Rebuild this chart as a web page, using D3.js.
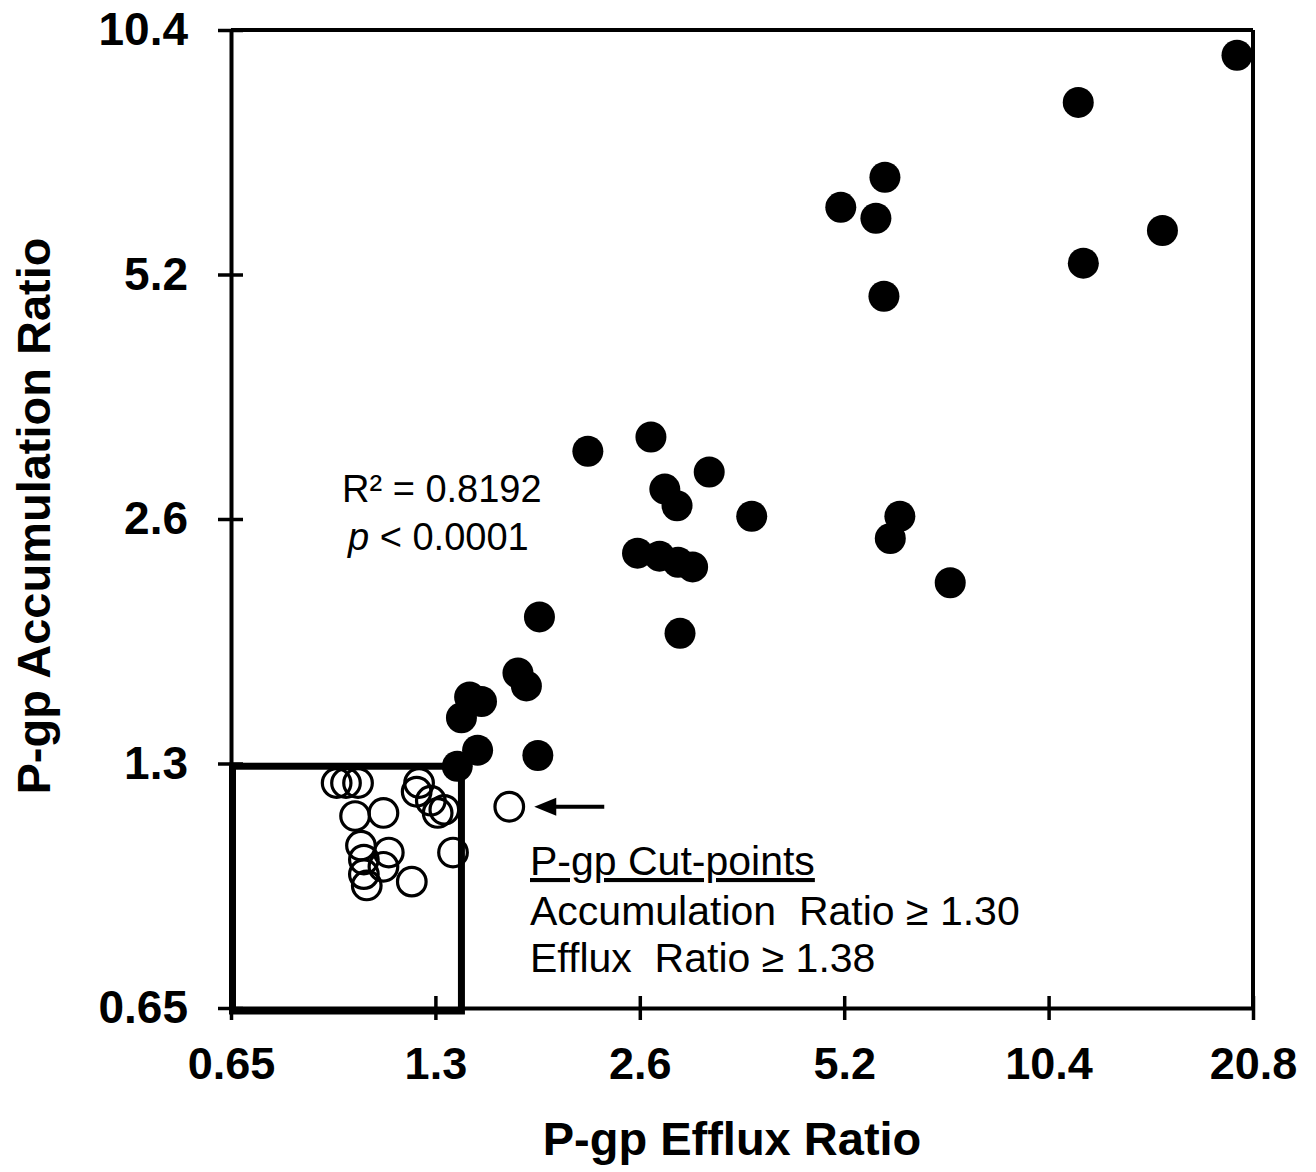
<!DOCTYPE html>
<html>
<head>
<meta charset="utf-8">
<script src="https://cdn.jsdelivr.net/npm/d3@7"></script>
<style>
  html, body { margin: 0; padding: 0; background: #fff; }
  svg { display: block; }
  text { font-family: "Liberation Sans", Arial, sans-serif; fill: #000; }
</style>
</head>
<body>
<svg id="chart" width="1316" height="1172"></svg>
<script>
// ---------- data ----------
const xTicks = [0.65, 1.3, 2.6, 5.2, 10.4, 20.8];
const yTicks = [0.65, 1.3, 2.6, 5.2, 10.4];
const xTickLabels = ["0.65", "1.3", "2.6", "5.2", "10.4", "20.8"];
const yTickLabels = ["0.65", "1.3", "2.6", "5.2", "10.4"];

// P-gp positive compounds (filled)
const filledEfflux = [19.7, 11.5, 5.97, 5.14, 5.79, 15.3, 11.7, 5.95, 2.18, 2.70, 3.29, 2.83, 2.95, 3.80,
  2.58, 2.78, 2.96, 3.11, 6.28, 6.08, 7.45, 2.98, 1.85, 1.72, 1.77, 1.46, 1.52, 1.42, 1.50, 1.84, 1.40];
const filledAccum = [9.68, 8.47, 6.85, 6.29, 6.10, 5.89, 5.37, 4.89, 3.15, 3.28, 2.97, 2.83, 2.70, 2.62,
  2.36, 2.34, 2.30, 2.27, 2.62, 2.46, 2.17, 1.88, 1.97, 1.68, 1.62, 1.57, 1.55, 1.48, 1.35, 1.33, 1.29];

// P-gp negative compounds (open)
const openEfflux = [0.93, 0.96, 1.00, 0.99, 1.09, 1.23, 1.22, 1.28, 1.31, 1.34, 1.38, 1.01, 1.02, 1.11,
  1.09, 1.02, 1.03, 1.20, 1.67];
const openAccum = [1.23, 1.23, 1.23, 1.12, 1.13, 1.23, 1.20, 1.17, 1.13, 1.14, 1.01, 1.03, 0.99, 1.01,
  0.97, 0.95, 0.92, 0.93, 1.15];

// cut-point box corner (as drawn) and annotated point
const boxEfflux = 1.42;
const boxAccum = 1.29;
const arrowPoint = {x: 1.67, y: 1.15};

const statLines = ["R² = 0.8192", "< 0.0001"];
const cutLines = ["P-gp Cut-points", "Accumulation  Ratio ≥ 1.30", "Efflux  Ratio ≥ 1.38"];

// ---------- chart ----------
const svg = d3.select("#chart");
const x = d3.scaleLog().base(2).domain([0.65, 20.8]).range([231, 1253]);
const y = d3.scaleLog().base(2).domain([0.65, 10.4]).range([1008, 30]);

// frame top/right
svg.append("line").attr("x1", x(0.65)).attr("x2", x(20.8)).attr("y1", y(10.4)).attr("y2", y(10.4))
  .attr("stroke", "#000").attr("stroke-width", 4);
svg.append("line").attr("x1", x(20.8)).attr("x2", x(20.8)).attr("y1", y(10.4)).attr("y2", y(0.65))
  .attr("stroke", "#000").attr("stroke-width", 4);

// x axis
const gx = svg.append("g").attr("transform", `translate(0,${y(0.65)})`)
  .call(d3.axisBottom(x).tickValues(xTicks).tickFormat((d, i) => xTickLabels[i]).tickSize(12).tickSizeOuter(0));
gx.select(".domain").attr("stroke-width", 4);
gx.selectAll(".tick line").attr("y1", -12).attr("y2", 12).attr("stroke-width", 3.5);
gx.selectAll(".tick text").attr("y", 39).attr("dy", "0.71em")
  .style("font-size", "45px").style("font-weight", "bold").style("font-family", '"Liberation Sans", Arial, sans-serif');

// y axis
const gy = svg.append("g").attr("transform", `translate(${x(0.65)},0)`)
  .call(d3.axisLeft(y).tickValues(yTicks).tickFormat((d, i) => yTickLabels[i]).tickSize(13).tickSizeOuter(0));
gy.select(".domain").attr("stroke-width", 4);
gy.selectAll(".tick line").attr("x1", -13).attr("x2", 12).attr("stroke-width", 3.5);
gy.selectAll(".tick text").attr("x", -43).attr("dy", "0.32em")
  .style("font-size", "46px").style("font-weight", "bold").style("font-family", '"Liberation Sans", Arial, sans-serif');

// cut-point box
svg.append("rect")
  .attr("x", x(0.65) + 1.5).attr("y", y(boxAccum))
  .attr("width", x(boxEfflux) - x(0.65) - 1.5).attr("height", y(0.65) - y(boxAccum) + 3)
  .attr("fill", "none").attr("stroke", "#000").attr("stroke-width", 7);

// axis titles
svg.append("text").attr("x", 732).attr("y", 1155).attr("text-anchor", "middle")
  .style("font-size", "47px").style("font-weight", "bold").text("P-gp Efflux Ratio");
svg.append("text").attr("transform", "translate(50,516) rotate(-90)").attr("text-anchor", "middle")
  .style("font-size", "47px").style("font-weight", "bold").text("P-gp Accumulation Ratio");

// points
svg.append("g").selectAll("circle").data(openEfflux.map((v, i) => [v, openAccum[i]])).join("circle")
  .attr("cx", d => x(d[0])).attr("cy", d => y(d[1])).attr("r", 14.3)
  .attr("fill", "none").attr("stroke", "#000").attr("stroke-width", 3.2);
svg.append("g").selectAll("circle").data(filledEfflux.map((v, i) => [v, filledAccum[i]])).join("circle")
  .attr("cx", d => x(d[0])).attr("cy", d => y(d[1])).attr("r", 15.5).attr("fill", "#000");

// statistics text
svg.append("text").attr("x", 342).attr("y", 502).style("font-size", "38px").text(statLines[0]);
const pt = svg.append("text").attr("x", 348).attr("y", 550).style("font-size", "38px");
pt.append("tspan").style("font-style", "italic").text("p");
pt.append("tspan").text(" " + statLines[1]);

// arrow to annotated point
const ay = y(arrowPoint.y);
const tipX = x(arrowPoint.x) + 25;
svg.append("line").attr("x1", tipX + 14).attr("x2", tipX + 70).attr("y1", ay).attr("y2", ay)
  .attr("stroke", "#000").attr("stroke-width", 4);
svg.append("path").attr("d", `M${tipX},${ay} L${tipX + 22},${ay - 9} L${tipX + 22},${ay + 9} Z`).attr("fill", "#000");

// cut-points text
const cut = svg.append("g").style("font-size", "41px");
cutLines.forEach((t, i) => {
  cut.append("text").attr("x", 530).attr("y", [875, 925, 972][i])
    .attr("xml:space", "preserve").style("white-space", "pre")
    .style("text-decoration", i === 0 ? "underline" : "none").text(t);
});
</script>
</body>
</html>
